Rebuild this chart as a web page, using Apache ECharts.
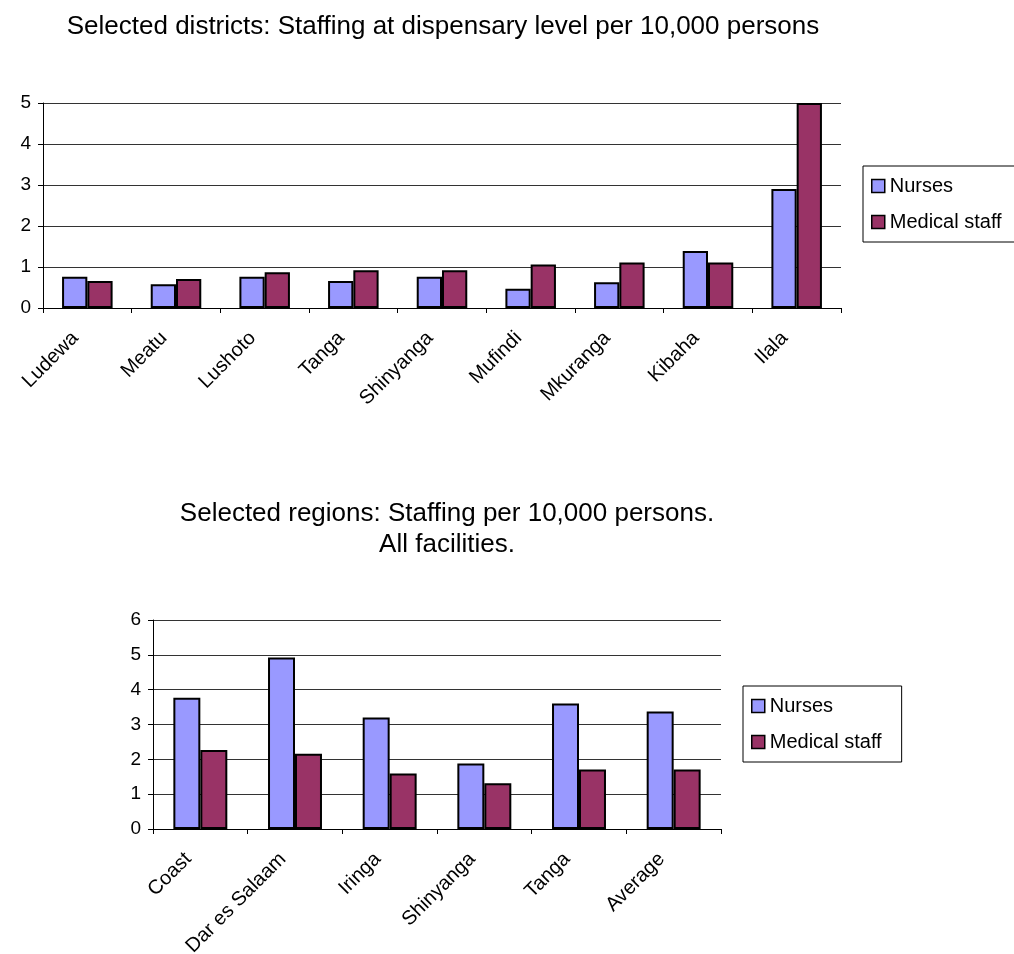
<!DOCTYPE html>
<html>
<head>
<meta charset="utf-8">
<script src="https://cdn.jsdelivr.net/npm/echarts@6/dist/echarts.min.js"></script>
<style>
  html, body { margin: 0; padding: 0; background: #fff; }
  #main { width: 1014px; height: 954px; }
</style>
</head>
<body>
<div id="main"></div>
<script>
// districts chart (top)
var districts = ['Ludewa', 'Meatu', 'Lushoto', 'Tanga', 'Shinyanga', 'Mufindi', 'Mkuranga', 'Kibaha', 'Ilala'];
var districtNurses = [0.76, 0.58, 0.76, 0.66, 0.76, 0.47, 0.63, 1.39, 2.9];
var districtMedical = [0.66, 0.71, 0.87, 0.92, 0.92, 1.06, 1.11, 1.11, 5.0];

// regions chart (bottom)
var regions = ['Coast', 'Dar es Salaam', 'Iringa', 'Shinyanga', 'Tanga', 'Average'];
var regionNurses = [3.77, 4.92, 3.2, 1.88, 3.6, 3.37];
var regionMedical = [2.27, 2.16, 1.59, 1.31, 1.71, 1.71];

var seriesNames = ['Nurses', 'Medical staff'];
var colors = ['#9999FF', '#993366'];
var FONT = 'Liberation Sans, Arial, sans-serif';

var chart = echarts.init(document.getElementById('main'));

function xAxisFor(idx, cats) {
  return {
    type: 'category',
    gridIndex: idx,
    data: cats,
    axisLine: { lineStyle: { color: '#000', width: 1 } },
    axisTick: { show: true, length: 5, lineStyle: { color: '#000' } },
    // padding on the right pushes the rotated text down-left, like Excel does
    axisLabel: { rotate: 45, margin: 15, padding: [0, 17, 0, 0], color: '#000', fontSize: 20, fontFamily: FONT, interval: 0 },
    splitLine: { show: false }
  };
}
function yAxisFor(idx, max) {
  return {
    type: 'value',
    gridIndex: idx,
    min: 0,
    max: max,
    interval: 1,
    axisLine: { show: true, lineStyle: { color: '#000', width: 1 } },
    axisTick: { show: true, length: 5, lineStyle: { color: '#000' } },
    axisLabel: { margin: 12, color: '#000', fontSize: 19, fontFamily: FONT },
    splitLine: { show: true, lineStyle: { color: '#333', width: 1 } }
  };
}
function barSeries(name, data, color, idx, gap) {
  return {
    name: name,
    type: 'bar',
    xAxisIndex: idx,
    yAxisIndex: idx,
    data: data,
    barGap: '0%',
    barCategoryGap: gap,
    itemStyle: { color: color, borderColor: '#000', borderWidth: 2 },
    emphasis: { disabled: true }
  };
}
function legendFor(left, top) {
  return {
    data: seriesNames,
    orient: 'vertical',
    left: left,
    top: top,
    itemWidth: 13,
    itemHeight: 13,
    itemGap: 16,
    padding: [10, 20, 10, 8],
    borderColor: '#000',
    borderWidth: 1,
    icon: 'rect',
    itemStyle: { borderColor: '#000', borderWidth: 1.5 },
    textStyle: { color: '#000', fontSize: 20, fontFamily: FONT }
  };
}

chart.setOption({
  animation: false,
  color: colors,
  graphic: [
    { type: 'text', x: 443, y: 27, style: { text: 'Selected districts: Staffing at dispensary level per 10,000 persons',
      font: '26px ' + FONT, fill: '#000', textAlign: 'center', textVerticalAlign: 'middle' } },
    { type: 'text', x: 447, y: 514, style: { text: 'Selected regions: Staffing per 10,000 persons.',
      font: '26px ' + FONT, fill: '#000', textAlign: 'center', textVerticalAlign: 'middle' } },
    { type: 'text', x: 447, y: 545, style: { text: 'All facilities.',
      font: '26px ' + FONT, fill: '#000', textAlign: 'center', textVerticalAlign: 'middle' } }
  ],
  legend: [legendFor(863, 166), legendFor(743, 686)],
  grid: [
    { left: 43, top: 103, width: 798, height: 205, containLabel: false, outerBoundsMode: 'none' },
    { left: 153, top: 620, width: 568, height: 209, containLabel: false, outerBoundsMode: 'none' }
  ],
  xAxis: [xAxisFor(0, districts), xAxisFor(1, regions)],
  yAxis: [yAxisFor(0, 5), yAxisFor(1, 6)],
  series: [
    barSeries(seriesNames[0], districtNurses, colors[0], 0, '43%'),
    barSeries(seriesNames[1], districtMedical, colors[1], 0, '43%'),
    barSeries(seriesNames[0], regionNurses, colors[0], 1, '43%'),
    barSeries(seriesNames[1], regionMedical, colors[1], 1, '43%')
  ]
});
</script>
</body>
</html>
